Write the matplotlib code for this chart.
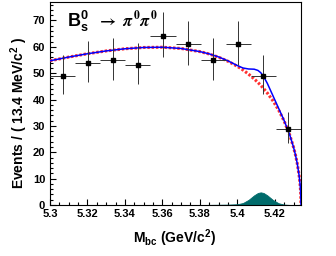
import numpy as np
import matplotlib
matplotlib.use('Agg')
import matplotlib.pyplot as plt
from matplotlib.ticker import MultipleLocator, FixedLocator, FixedFormatter

plt.rcParams['font.family'] = ['Liberation Sans', 'DejaVu Sans']
plt.rcParams['font.weight'] = 'bold'
plt.rcParams['mathtext.fontset'] = 'custom'
plt.rcParams['mathtext.rm'] = 'Liberation Sans:bold'
plt.rcParams['mathtext.bf'] = 'Liberation Sans:bold'
plt.rcParams['mathtext.it'] = 'Liberation Sans:bold'

# data histogram (13.4 MeV bins)
bin_centers = [5.3067, 5.3201, 5.3335, 5.3469, 5.3603, 5.3737, 5.3871, 5.4005, 5.4139, 5.4273]
counts = [49, 54, 55, 53, 64, 61, 55, 61, 49, 29]
err_low = [6.98, 7.33, 7.40, 7.26, 7.98, 7.78, 7.40, 7.78, 6.98, 5.37]
err_high = [8.05, 8.39, 8.46, 8.32, 9.05, 8.85, 8.46, 8.85, 8.05, 6.47]
half_bin = 0.0067

# fit curves
curve_x = [5.300, 5.310, 5.320, 5.330, 5.340, 5.350, 5.360, 5.370, 5.380, 5.385,
           5.390, 5.395, 5.400, 5.403, 5.406, 5.409, 5.411, 5.4125, 5.414, 5.416,
           5.419, 5.422, 5.425, 5.428, 5.430, 5.431, 5.432, 5.433, 5.4335, 5.4338, 5.434]
bkg = [54.71, 56.12, 57.38, 58.45, 59.27, 59.76, 59.85, 59.38, 58.20, 57.28,
       56.07, 54.53, 52.61, 51.23, 49.65, 47.84, 46.49, 45.40, 44.21, 42.50,
       39.56, 36.09, 31.87, 26.54, 21.96, 19.14, 15.73, 11.20, 7.94, 5.04, 0.0]
sig = [0, 0, 0, 0, 0, 0, 0, 0, 0, 0.05,
       0.1, 0.15, 0.3, 0.75, 1.95, 3.68, 4.57, 4.8, 4.57, 3.68,
       1.92, 0.68, 0.16, 0.03, 0, 0, 0, 0, 0, 0, 0]
total = np.array(bkg) + np.array(sig)

xticks = [5.30, 5.32, 5.34, 5.36, 5.38, 5.40, 5.42]
xticklabels = ['5.3', '5.32', '5.34', '5.36', '5.38', '5.4', '5.42']

fig = plt.figure(figsize=(3.36, 2.56), dpi=100)
ax = fig.add_axes([50/336, 1-205/256, 251/336, 203.5/256])

ax.fill_between(curve_x, 0, sig, color='#006b6b', lw=0.6, edgecolor='#006b6b', zorder=2)
ax.plot(curve_x, bkg, color='#ff3030', lw=2.2, ls=(0, (0.8, 0.6)), zorder=3)
ax.plot(curve_x, total, color='blue', lw=1.1, zorder=4)
ax.errorbar(bin_centers, counts, xerr=half_bin, yerr=[err_low, err_high],
            fmt='s', color='black', ms=2.2, elinewidth=0.7, ecolor='#333333',
            capsize=0, zorder=5)

ax.set_xlim(5.3, 5.434)
ax.set_ylim(0, 77.2)
ax.xaxis.set_major_locator(FixedLocator(xticks))
ax.xaxis.set_major_formatter(FixedFormatter(xticklabels))
ax.xaxis.set_minor_locator(MultipleLocator(0.005))
ax.yaxis.set_major_locator(MultipleLocator(10))
ax.yaxis.set_minor_locator(MultipleLocator(2))
ax.tick_params(which='both', direction='in', top=False, right=False, labelsize=8)
ax.tick_params(which='major', length=4.3, width=0.8)
ax.tick_params(which='minor', length=2.2, width=0.8)
ax.tick_params(axis='x', pad=3)
for s in ax.spines.values():
    s.set_linewidth(0.8)

ax.text(0.068, 0.875, r'$\mathbf{B^0_s}$', transform=ax.transAxes, fontsize=13, va='baseline')
ax.text(0.187, 0.875, r'$\rightarrow\ \pi^0\pi^0$', transform=ax.transAxes, fontsize=12,
        va='baseline', math_fontfamily='stix')

fig.text(19/336, 1-113/256, r'Events / ( 13.4 MeV/c$^{2}$ )', rotation=90,
         ha='center', va='center', fontsize=10, fontweight='bold')
fig.text(175/336, 1-238/256, r'M$_{\mathrm{bc}}$ (GeV/c$^{2}$)',
         ha='center', va='center', fontsize=10, fontweight='bold')

fig.savefig('out.png', dpi=100)
